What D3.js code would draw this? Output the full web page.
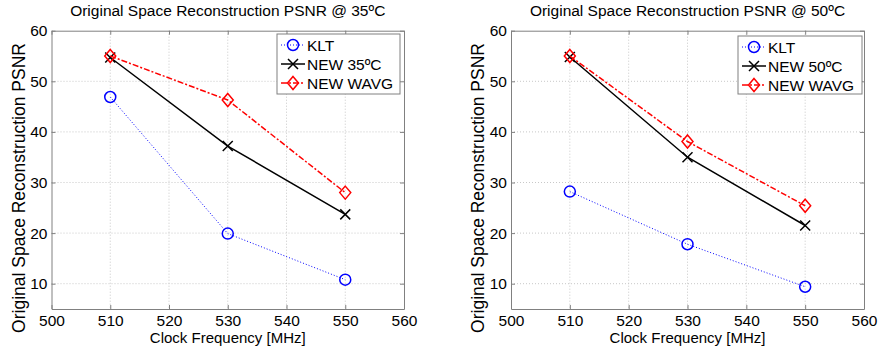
<!DOCTYPE html>
<html>
<head>
<meta charset="utf-8">
<script src="https://cdn.jsdelivr.net/npm/d3@7"></script>
<style>
  body { margin: 0; background: #fff; }
  svg { display: block; font-family: Arial, "Liberation Sans", sans-serif; }
</style>
</head>
<body>
<div id="chart"></div>
<script>
// clock frequency [MHz]
const freqs = [510, 530, 550];

// PSNR @ 35ºC
const klt35 = [46.9, 19.9, 10.8];
const new35 = [54.7, 37.2, 23.7];
const wavg35 = [55.0, 46.3, 28.0];

// PSNR @ 50ºC
const klt50 = [28.2, 17.8, 9.4];
const new50 = [54.8, 35.0, 21.5];
const wavg50 = [55.0, 38.1, 25.4];

const xTicks = [500, 510, 520, 530, 540, 550, 560];
const yTicks = [10, 20, 30, 40, 50, 60];

const width = 879;
const height = 347;

const svg = d3.select('#chart')
  .append('svg')
  .attr('width', width)
  .attr('height', height);

const panels = [
  { title: 'Original Space Reconstruction PSNR @ 35ºC', left: 51.5, right: 404,
    series: [
      { name: 'KLT', values: klt35, color: '#0000ff', dash: '1,2', w: 1, marker: 'circle' },
      { name: 'NEW 35ºC', values: new35, color: '#000000', dash: null, w: 1.5, marker: 'cross' },
      { name: 'NEW WAVG', values: wavg35, color: '#ff0000', dash: '6,2,2,2', w: 1.5, marker: 'diamond' },
    ], legend: { x: 277, y: 34, w: 123, h: 60 } },
  { title: 'Original Space Reconstruction PSNR @ 50ºC', left: 511, right: 864,
    series: [
      { name: 'KLT', values: klt50, color: '#0000ff', dash: '1,2', w: 1, marker: 'circle' },
      { name: 'NEW 50ºC', values: new50, color: '#000000', dash: null, w: 1.5, marker: 'cross' },
      { name: 'NEW WAVG', values: wavg50, color: '#ff0000', dash: '6,2,2,2', w: 1.5, marker: 'diamond' },
    ], legend: { x: 738, y: 36, w: 124, h: 58 } },
];

const plotTop = 30.7;
const plotBottom = 309;

function drawMarker(g, type, x, y, color) {
  if (type === 'circle') {
    g.append('circle').attr('cx', x).attr('cy', y).attr('r', 5.5)
      .attr('fill', 'none').attr('stroke', color).attr('stroke-width', 1.5);
  } else if (type === 'cross') {
    const s = 5;
    g.append('path')
      .attr('d', `M${x - s},${y - s}L${x + s},${y + s}M${x - s},${y + s}L${x + s},${y - s}`)
      .attr('stroke', color).attr('stroke-width', 1.5);
  } else {
    g.append('path')
      .attr('d', `M${x},${y - 6.5}L${x + 5.5},${y}L${x},${y + 6.5}L${x - 5.5},${y}Z`)
      .attr('fill', 'none').attr('stroke', color).attr('stroke-width', 1.5);
  }
}

panels.forEach((p) => {
  const x = d3.scaleLinear().domain([500, 560]).range([p.left, p.right]);
  const y = d3.scaleLinear().domain([5, 60]).range([plotBottom, plotTop]);
  const g = svg.append('g');

  // grid
  g.append('g').selectAll('line').data(xTicks.slice(1, -1)).join('line')
    .attr('x1', (d) => x(d)).attr('x2', (d) => x(d))
    .attr('y1', plotTop).attr('y2', plotBottom)
    .attr('stroke', '#c8c8c8').attr('stroke-dasharray', '1,2');
  g.append('g').selectAll('line').data(yTicks.slice(0, -1)).join('line')
    .attr('x1', p.left).attr('x2', p.right)
    .attr('y1', (d) => y(d)).attr('y2', (d) => y(d))
    .attr('stroke', '#c8c8c8').attr('stroke-dasharray', '1,2');

  // axes (box on, ticks inward)
  const xAxis = g.append('g').attr('transform', `translate(0,${plotBottom})`)
    .call(d3.axisBottom(x).tickValues(xTicks).tickSizeInner(-4).tickSizeOuter(0).tickPadding(5.5));
  const yAxis = g.append('g').attr('transform', `translate(${p.left},0)`)
    .call(d3.axisLeft(y).tickValues(yTicks).tickSizeInner(-4).tickSizeOuter(0).tickPadding(4));
  g.append('g').attr('transform', `translate(${p.right},0)`)
    .call(d3.axisRight(y).tickValues(yTicks).tickSizeInner(-4).tickSizeOuter(0).tickFormat(''));
  g.append('g').attr('transform', `translate(0,${plotTop})`)
    .call(d3.axisTop(x).tickValues(xTicks).tickSizeInner(-4).tickSizeOuter(0).tickFormat(''));
  g.selectAll('.domain').attr('stroke', '#808080');
  g.selectAll('.tick line').attr('stroke', '#808080');
  [xAxis, yAxis].forEach((a) => a.selectAll('text')
    .attr('font-size', 15.5).attr('fill', '#000').attr('font-family', 'Arial, "Liberation Sans", sans-serif'));

  // title & labels
  g.append('text').attr('x', (p.left + p.right) / 2).attr('y', 16)
    .attr('text-anchor', 'middle').attr('font-size', 15.5).text(p.title);
  g.append('text').attr('x', (p.left + p.right) / 2).attr('y', 342.5)
    .attr('text-anchor', 'middle').attr('font-size', 15).text('Clock Frequency [MHz]');
  g.append('text')
    .attr('transform', `translate(${p.left - 27},188) rotate(-90)`)
    .attr('text-anchor', 'middle').attr('font-size', 17.5).text('Original Space Reconstruction PSNR');

  // series
  const line = d3.line().x((d, i) => x(freqs[i])).y((d) => y(d));
  p.series.forEach((s) => {
    g.append('path').datum(s.values).attr('d', line)
      .attr('fill', 'none').attr('stroke', s.color).attr('stroke-width', s.w)
      .attr('stroke-dasharray', s.dash);
    s.values.forEach((v, i) => drawMarker(g, s.marker, x(freqs[i]), y(v), s.color));
  });

  // legend
  const L = p.legend;
  const lg = g.append('g');
  lg.append('rect').attr('x', L.x).attr('y', L.y).attr('width', L.w).attr('height', L.h)
    .attr('fill', '#fff').attr('stroke', '#808080');
  p.series.forEach((s, i) => {
    const ry = L.y + 11 + i * 19;
    lg.append('line').attr('x1', L.x + 4).attr('x2', L.x + 28).attr('y1', ry).attr('y2', ry)
      .attr('stroke', s.color).attr('stroke-width', s.w).attr('stroke-dasharray', s.dash);
    drawMarker(lg, s.marker, L.x + 16, ry, s.color);
    lg.append('text').attr('x', L.x + 30).attr('y', ry + 5.5)
      .attr('font-size', 15.5).text(s.name);
  });
});
</script>
</body>
</html>
